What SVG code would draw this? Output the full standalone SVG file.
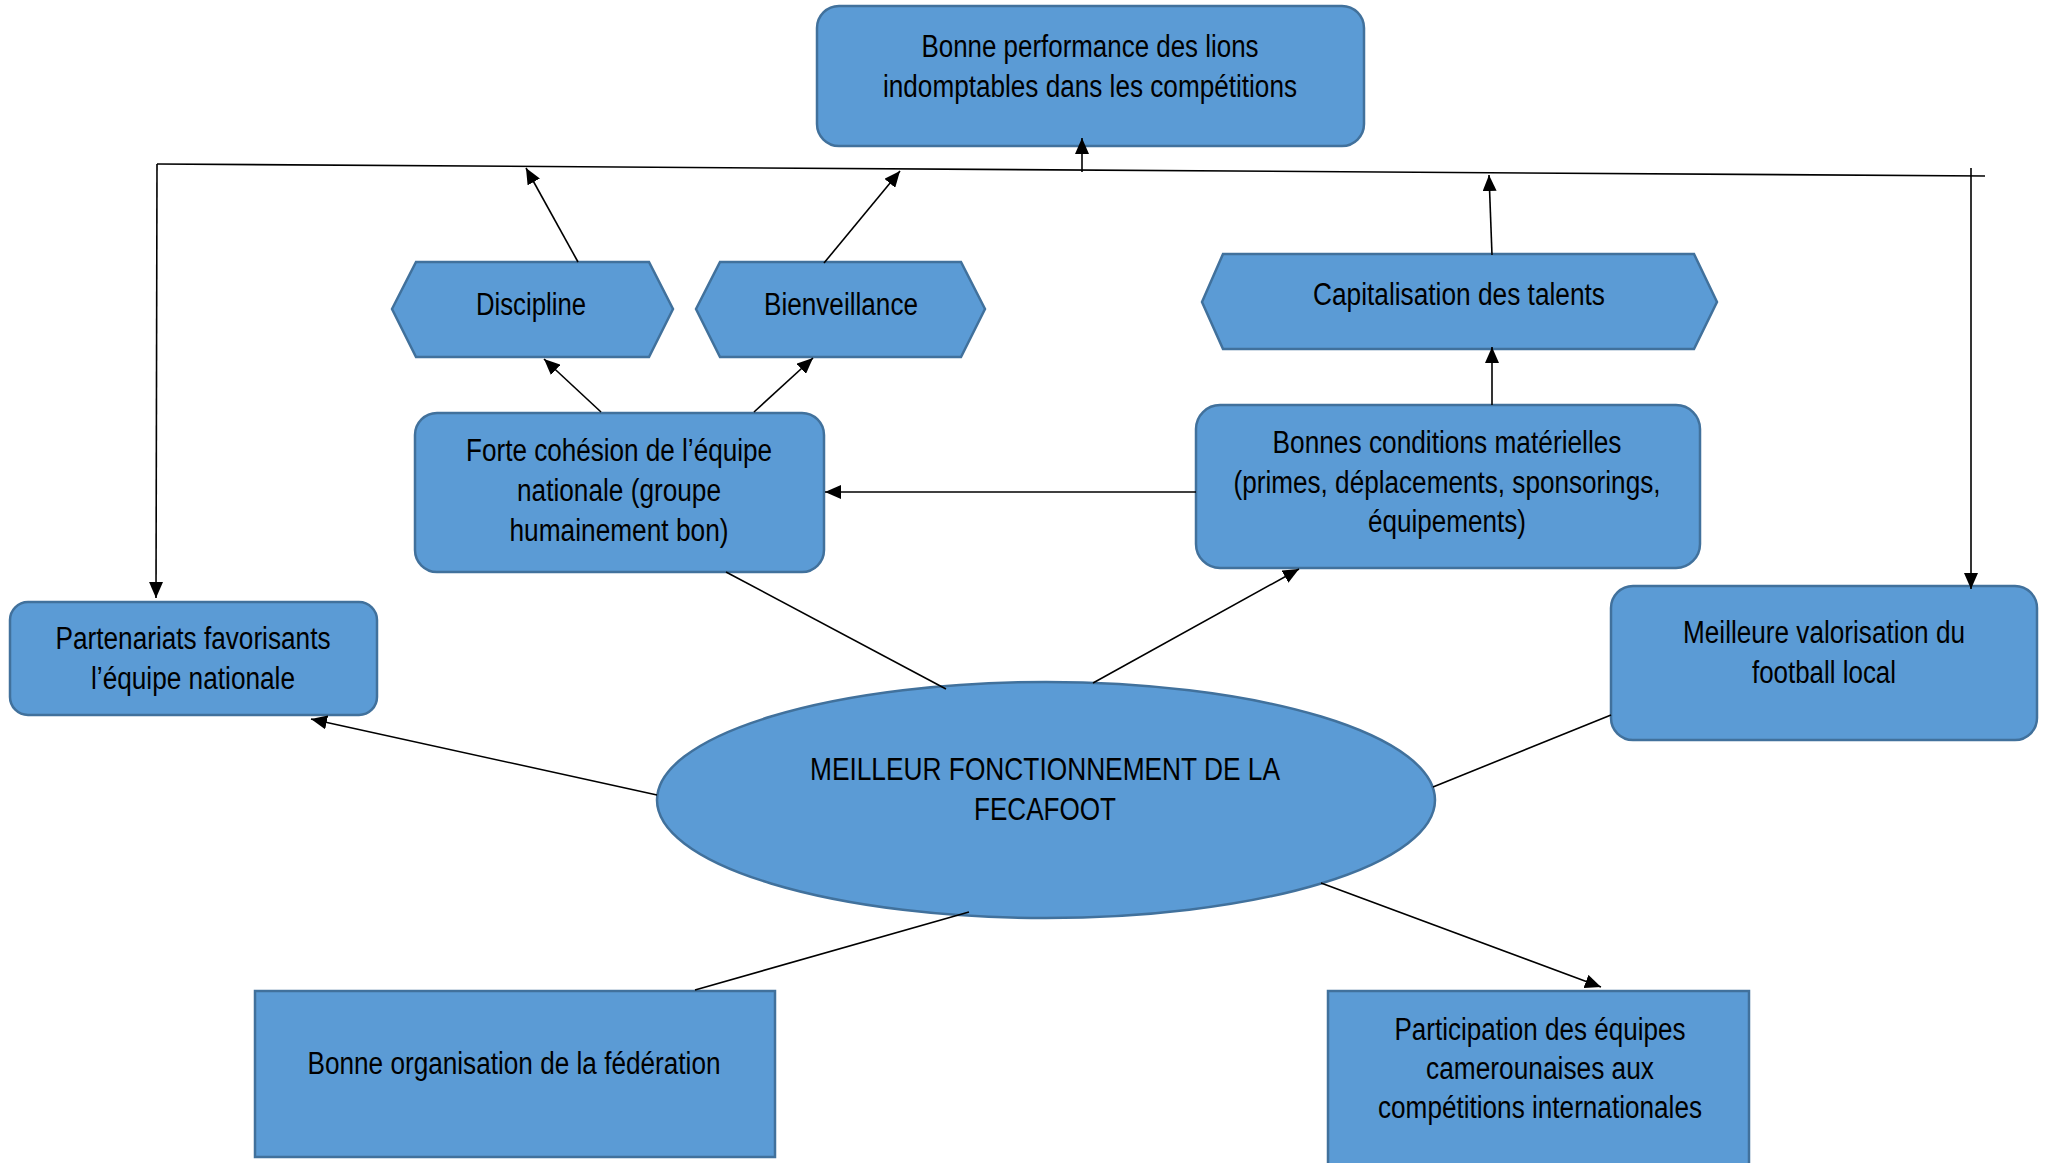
<svg xmlns="http://www.w3.org/2000/svg" width="2047" height="1163" viewBox="0 0 2047 1163">
<style>
.n{fill:#5B9BD5;stroke:#41719C;stroke-width:2.5}
.t{font-family:"Liberation Sans",Arial,sans-serif;font-size:31px;fill:#000;text-anchor:middle}
.c{fill:none;stroke:#000;stroke-width:1.6}
.a{marker-end:url(#ah)}
</style>
<defs>
<marker id="ah" markerUnits="userSpaceOnUse" markerWidth="16" markerHeight="14" refX="16" refY="7" orient="auto">
<path d="M0,0 L16,7 L0,14 z" fill="#000"/>
</marker>
</defs>
<rect width="2047" height="1163" fill="#fff"/>
<g id="nodes">
<g id="n-top">
<rect class="n" x="817" y="6" width="547" height="140" rx="22"/>
<text class="t" x="1090" y="57" textLength="337" lengthAdjust="spacingAndGlyphs">Bonne performance des lions</text>
<text class="t" x="1090" y="97" textLength="414" lengthAdjust="spacingAndGlyphs">indomptables dans les compétitions</text>
</g>
<g id="n-discipline">
<polygon class="n" points="392,309 416,262 649,262 673,309 649,357 416,357"/>
<text class="t" x="531" y="315" textLength="110" lengthAdjust="spacingAndGlyphs">Discipline</text>
</g>
<g id="n-bienveillance">
<polygon class="n" points="696,309 720,262 961,262 985,309 961,357 720,357"/>
<text class="t" x="841" y="315" textLength="154" lengthAdjust="spacingAndGlyphs">Bienveillance</text>
</g>
<g id="n-capitalisation">
<polygon class="n" points="1202,302 1223,254 1694,254 1717,302 1694,349 1223,349"/>
<text class="t" x="1459" y="305" textLength="292" lengthAdjust="spacingAndGlyphs">Capitalisation des talents</text>
</g>
<g id="n-forte">
<rect class="n" x="415" y="413" width="409" height="159" rx="22"/>
<text class="t" x="619" y="461" textLength="306" lengthAdjust="spacingAndGlyphs">Forte cohésion de l’équipe</text>
<text class="t" x="619" y="501" textLength="204" lengthAdjust="spacingAndGlyphs">nationale (groupe</text>
<text class="t" x="619" y="541" textLength="219" lengthAdjust="spacingAndGlyphs">humainement bon)</text>
</g>
<g id="n-bonnes">
<rect class="n" x="1196" y="405" width="504" height="163" rx="24"/>
<text class="t" x="1447" y="453" textLength="349" lengthAdjust="spacingAndGlyphs">Bonnes conditions matérielles</text>
<text class="t" x="1447" y="493" textLength="427" lengthAdjust="spacingAndGlyphs">(primes, déplacements, sponsorings,</text>
<text class="t" x="1447" y="532" textLength="158" lengthAdjust="spacingAndGlyphs">équipements)</text>
</g>
<g id="n-partenariats">
<rect class="n" x="10" y="602" width="367" height="113" rx="18"/>
<text class="t" x="193" y="649" textLength="275" lengthAdjust="spacingAndGlyphs">Partenariats favorisants</text>
<text class="t" x="193" y="689" textLength="204" lengthAdjust="spacingAndGlyphs">l’équipe nationale</text>
</g>
<g id="n-meilleure">
<rect class="n" x="1611" y="586" width="426" height="154" rx="22"/>
<text class="t" x="1824" y="643" textLength="282" lengthAdjust="spacingAndGlyphs">Meilleure valorisation du</text>
<text class="t" x="1824" y="683" textLength="144" lengthAdjust="spacingAndGlyphs">football local</text>
</g>
<g id="n-fecafoot">
<ellipse class="n" cx="1046" cy="800" rx="389" ry="118"/>
<text class="t" x="1045" y="780" textLength="470" lengthAdjust="spacingAndGlyphs">MEILLEUR FONCTIONNEMENT DE LA</text>
<text class="t" x="1045" y="820" textLength="142" lengthAdjust="spacingAndGlyphs">FECAFOOT</text>
</g>
<g id="n-organisation">
<rect class="n" x="255" y="991" width="520" height="166"/>
<text class="t" x="514" y="1074" textLength="413" lengthAdjust="spacingAndGlyphs">Bonne organisation de la fédération</text>
</g>
<g id="n-participation">
<rect class="n" x="1328" y="991" width="421" height="190"/>
<text class="t" x="1540" y="1040" textLength="291" lengthAdjust="spacingAndGlyphs">Participation des équipes</text>
<text class="t" x="1540" y="1079" textLength="228" lengthAdjust="spacingAndGlyphs">camerounaises aux</text>
<text class="t" x="1540" y="1118" textLength="324" lengthAdjust="spacingAndGlyphs">compétitions internationales</text>
</g>
</g>
<g id="connectors">
<line class="c" x1="157" y1="164" x2="1985" y2="176"/>
<line class="c a" x1="157" y1="164" x2="156" y2="598"/>
<line class="c a" x1="1971" y1="168" x2="1971" y2="589"/>
<line class="c a" x1="1082" y1="172" x2="1082" y2="138"/>
<line class="c a" x1="578" y1="262" x2="526" y2="168"/>
<line class="c a" x1="824" y1="263" x2="900" y2="171"/>
<line class="c a" x1="601" y1="412" x2="544" y2="359"/>
<line class="c a" x1="754" y1="412" x2="813" y2="358"/>
<line class="c a" x1="1492" y1="255" x2="1489" y2="175"/>
<line class="c a" x1="1492" y1="405" x2="1492" y2="347"/>
<line class="c a" x1="1196" y1="492" x2="825" y2="492"/>
<line class="c" x1="946" y1="689" x2="726" y2="572"/>
<line class="c a" x1="1093" y1="683" x2="1299" y2="569"/>
<line class="c a" x1="657" y1="795" x2="311" y2="719"/>
<line class="c" x1="1433" y1="787" x2="1611" y2="715"/>
<line class="c" x1="969" y1="912" x2="695" y2="990"/>
<line class="c a" x1="1321" y1="883" x2="1601" y2="987"/>
</g>
</svg>
